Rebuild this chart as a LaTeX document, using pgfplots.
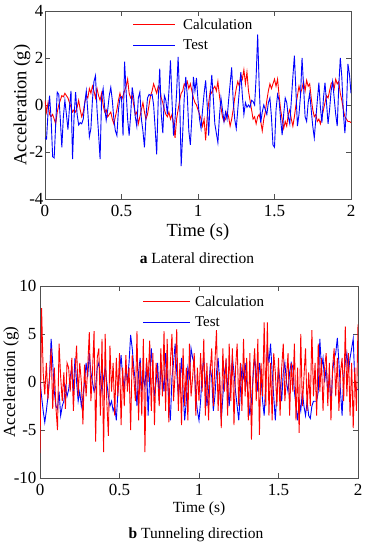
\documentclass[border=0pt]{standalone}
\usepackage{pgfplots}
\pgfplotsset{compat=1.18}
\usepackage{pgfplotstable}
\usepackage{fontspec}
\setmainfont{Liberation Serif}

\pgfplotstableread{
t calc test
0.00 0.20 -1.40
0.01 -0.30 -1.45
0.02 0.10 -0.30
0.03 -0.40 0.40
0.04 -0.50 -0.60
0.05 -0.40 -2.20
0.06 -0.60 -2.25
0.07 -0.80 -0.80
0.08 -0.30 0.55
0.09 0.00 0.45
0.10 0.20 -0.60
0.11 0.40 -1.80
0.12 0.35 -0.50
0.13 0.50 0.20
0.14 0.40 -0.40
0.15 0.30 -1.05
0.16 0.10 -0.10
0.17 -0.10 0.60
0.18 -0.30 -2.30
0.19 -0.20 -0.50
0.20 -0.30 0.55
0.21 -0.10 -0.40
0.22 0.20 -0.85
0.23 -0.20 -0.75
0.24 -0.50 -0.80
0.25 -0.30 -0.60
0.26 0.10 0.10
0.27 0.40 0.60
0.28 0.30 -0.30
0.29 0.70 -1.35
0.30 0.50 -1.00
0.31 0.80 0.20
0.32 0.60 1.00
0.33 0.30 1.25
0.34 0.70 -0.20
0.35 0.40 -1.20
0.36 0.20 -2.30
0.37 0.50 0.30
0.38 0.00 0.70
0.39 -0.30 -0.10
0.40 -0.20 -0.65
0.41 -0.50 -0.20
0.42 -0.40 0.40
0.43 -0.30 0.75
0.44 -0.60 0.20
0.45 -0.80 -0.60
0.46 -0.50 -1.10
0.47 -0.20 -1.30
0.48 0.20 -0.20
0.49 0.50 0.30
0.50 0.20 0.35
0.51 0.40 -1.30
0.52 0.60 1.85
0.53 0.80 0.60
0.54 1.10 -0.60
0.55 0.50 -1.30
0.56 0.30 -0.40
0.57 0.40 0.75
0.58 0.00 0.30
0.59 -0.40 -0.50
0.60 -0.30 -0.90
0.61 -0.80 0.30
0.62 -0.50 0.55
0.63 -0.20 -0.60
0.64 0.10 -1.10
0.65 -0.30 -1.80
0.66 -0.60 -0.50
0.67 -0.40 0.30
0.68 0.00 0.45
0.69 0.40 0.40
0.70 0.60 0.45
0.71 0.90 0.00
0.72 0.70 -1.00
0.73 0.50 -2.10
0.74 0.80 0.20
0.75 0.70 1.55
0.76 0.30 -0.40
0.77 0.10 -1.20
0.78 -0.20 0.40
0.79 -0.40 0.20
0.80 -0.50 -0.40
0.81 -0.30 0.60
0.82 -0.60 1.90
0.83 -0.40 0.20
0.84 -0.80 -1.30
0.85 -1.40 -0.60
0.86 -0.60 0.50
0.87 -0.20 2.05
0.88 0.20 0.30
0.89 0.50 -2.60
0.90 0.60 -1.20
0.91 0.90 0.30
0.92 0.80 1.20
0.93 1.00 0.40
0.94 0.70 -1.10
0.95 0.90 -1.70
0.96 0.60 -0.50
0.97 0.30 1.20
0.98 0.10 0.60
0.99 0.00 1.15
1.00 -0.20 0.20
1.01 -0.40 -0.60
1.02 -0.60 -1.00
1.03 -0.90 -0.20
1.04 -0.60 0.50
1.05 -1.50 1.05
1.06 -0.50 0.00
1.07 0.10 -1.30
1.08 0.60 0.40
1.09 0.50 1.28
1.10 0.70 0.30
1.11 0.80 -0.80
1.12 0.60 -1.20
1.13 1.00 -1.60
1.14 0.40 -0.50
1.15 -0.10 0.30
1.16 -0.50 -0.20
1.17 -0.70 -0.70
1.18 -0.60 -0.30
1.19 -0.30 -0.60
1.20 -0.50 0.20
1.21 -0.90 0.90
1.22 -0.60 1.60
1.23 -0.20 0.20
1.24 0.30 -0.60
1.25 0.70 -1.00
1.26 1.00 -0.20
1.27 0.80 0.60
1.28 1.30 1.40
1.29 1.10 0.40
1.30 1.50 -0.40
1.31 0.90 0.10
1.32 1.40 -0.10
1.33 0.60 0.00
1.34 0.20 -0.10
1.35 -0.20 0.20
1.36 -0.60 0.15
1.37 -0.50 0.00
1.38 -0.80 1.20
1.39 -0.50 3.00
1.40 -0.40 0.80
1.41 -0.70 -0.75
1.42 -1.10 -0.30
1.43 -0.60 0.00
1.44 -0.30 -0.20
1.45 0.20 -0.40
1.46 0.60 0.10
1.47 0.90 0.30
1.48 0.70 -0.50
1.49 0.90 -1.70
1.50 1.10 -1.80
1.51 0.80 -0.20
1.52 1.10 0.45
1.53 0.40 0.20
1.54 -0.20 -0.60
1.55 -0.60 -1.28
1.56 -1.00 -0.40
1.57 -0.70 0.30
1.58 -0.90 0.10
1.59 -0.40 -0.50
1.60 -0.20 -0.80
1.61 -0.60 0.20
1.62 -0.90 1.20
1.63 -0.50 2.10
1.64 0.00 0.60
1.65 0.40 -0.90
1.66 0.80 -0.40
1.67 0.50 0.40
1.68 0.70 2.00
1.69 1.00 0.80
1.70 0.60 -0.50
1.71 1.05 -0.70
1.72 0.80 0.10
1.73 0.90 0.50
1.74 0.30 -0.20
1.75 -0.20 -0.90
1.76 -0.50 -1.40
1.77 -0.40 -0.60
1.78 -0.70 0.20
1.79 -0.60 0.95
1.80 -0.80 -0.10
1.81 -0.50 -0.75
1.82 -0.20 0.30
1.83 0.10 0.95
1.84 0.40 0.10
1.85 0.30 -0.80
1.86 0.60 -0.20
1.87 0.90 0.60
1.88 1.00 1.00
1.89 0.70 0.30
1.90 1.10 -0.40
1.91 0.90 -0.90
1.92 1.00 0.80
1.93 0.50 2.00
1.94 0.20 1.20
1.95 -0.20 -0.30
1.96 -0.50 -1.20
1.97 -0.60 -0.20
1.98 -0.70 1.75
1.99 -0.70 1.30
2.00 -0.75 0.50
}\topdata

\pgfplotstableread{
t calc test
0.00 -7.4 0.0
0.01 7.7 -1.5
0.02 1.0 -3.0
0.03 -1.3 -4.2
0.04 2.0 -3.0
0.05 -1.8 -1.5
0.06 0.5 0.5
0.07 3.5 4.5
0.08 -2.8 2.0
0.09 1.5 -1.0
0.10 -2.6 -2.5
0.11 -5.0 -2.8
0.12 4.0 -1.0
0.13 0.5 -3.5
0.14 -2.0 -2.5
0.15 1.0 -2.0
0.16 -2.8 -0.5
0.17 2.0 -1.5
0.18 1.5 -0.8
0.19 -1.0 0.5
0.20 2.5 1.5
0.21 -3.0 -1.0
0.22 1.0 2.5
0.23 3.8 0.0
0.24 -1.5 -2.0
0.25 2.0 -1.0
0.26 0.0 -2.5
0.27 -4.4 -1.5
0.28 1.8 0.0
0.29 -1.5 2.0
0.30 1.5 0.5
0.31 5.2 3.0
0.32 -2.0 1.0
0.33 1.0 0.0
0.34 5.3 -1.0
0.35 -6.2 -0.5
0.36 2.5 1.5
0.37 3.5 2.0
0.38 -3.5 0.5
0.39 4.5 -1.0
0.40 -7.3 0.5
0.41 5.0 1.5
0.42 -2.0 0.0
0.43 -5.6 -1.5
0.44 3.8 -2.5
0.45 -1.0 -2.0
0.46 2.0 -3.0
0.47 -3.5 -2.5
0.48 2.5 -4.0
0.49 -1.5 -1.0
0.50 3.0 1.0
0.51 -4.5 2.8
0.52 1.5 0.5
0.53 -2.5 -0.5
0.54 2.8 1.5
0.55 -1.0 0.0
0.56 1.5 2.0
0.57 -5.0 4.9
0.58 2.8 3.5
0.59 0.5 1.5
0.60 -2.0 0.0
0.61 5.3 -2.5
0.62 -4.0 1.0
0.63 2.0 2.5
0.64 -3.5 -1.0
0.65 4.5 0.5
0.66 -7.3 -0.5
0.67 2.5 2.0
0.68 0.0 -3.5
0.69 4.3 0.5
0.70 -3.0 3.5
0.71 3.0 1.0
0.72 -4.5 -1.5
0.73 2.0 0.0
0.74 0.5 2.0
0.75 -2.5 -2.0
0.76 3.5 1.5
0.77 -1.5 0.5
0.78 5.3 -1.0
0.79 -3.0 3.0
0.80 4.5 1.0
0.81 -4.2 -2.0
0.82 2.0 -4.0
0.83 5.0 0.5
0.84 -2.0 2.0
0.85 1.0 4.0
0.86 5.5 1.0
0.87 -3.0 -1.5
0.88 2.0 0.0
0.89 -4.5 2.5
0.90 3.5 -1.0
0.91 -2.5 -4.0
0.92 1.5 -2.0
0.93 -4.0 1.5
0.94 4.0 0.5
0.95 -1.5 3.5
0.96 0.5 2.5
0.97 3.0 2.0
0.98 -3.5 -1.5
0.99 1.5 -3.0
1.00 -2.0 -4.0
1.01 3.0 -2.0
1.02 -1.0 1.0
1.03 4.5 2.5
1.04 -3.5 0.0
1.05 2.0 -2.5
1.06 -4.0 -1.0
1.07 1.0 1.5
1.08 3.5 0.5
1.09 -2.5 -3.0
1.10 2.0 -1.5
1.11 5.4 1.0
1.12 -3.0 2.5
1.13 1.0 0.0
1.14 -4.8 -4.0
1.15 3.5 -1.5
1.16 -1.0 1.0
1.17 2.5 2.0
1.18 -3.5 -0.5
1.19 4.0 -2.5
1.20 -2.0 0.5
1.21 3.5 2.5
1.22 -4.5 1.0
1.23 1.5 -1.0
1.24 4.0 -2.5
1.25 -2.5 -4.0
1.26 2.0 -1.0
1.27 -3.0 1.5
1.28 4.5 0.5
1.29 -1.5 2.0
1.30 2.5 0.0
1.31 -4.0 -1.5
1.32 3.0 -3.5
1.33 -6.0 -2.0
1.34 1.0 0.5
1.35 3.5 2.5
1.36 -2.0 1.0
1.37 4.5 -1.0
1.38 -5.5 2.0
1.39 2.0 0.5
1.40 -1.5 -2.0
1.41 6.2 -3.5
1.42 -2.5 0.0
1.43 6.2 3.5
1.44 -3.5 2.0
1.45 2.0 4.0
1.46 -4.0 1.0
1.47 3.0 -1.5
1.48 1.0 -4.0
1.49 -2.5 -1.0
1.50 2.5 1.5
1.51 -3.5 0.0
1.52 1.5 -2.0
1.53 4.0 1.0
1.54 -2.0 2.0
1.55 0.5 0.0
1.56 3.0 -1.0
1.57 -3.5 1.0
1.58 2.0 2.0
1.59 -1.0 1.5
1.60 4.0 -1.0
1.61 -4.0 -2.5
1.62 1.5 -4.0
1.63 -5.3 -2.0
1.64 5.0 -3.0
1.65 -2.5 -1.0
1.66 0.5 -2.5
1.67 3.5 -3.5
1.68 -3.0 -2.0
1.69 1.0 -3.5
1.70 -2.5 -3.8
1.71 5.4 -2.5
1.72 -1.5 -2.0
1.73 2.0 -2.0
1.74 -3.5 -2.0
1.75 4.0 -1.0
1.76 -1.0 4.5
1.77 2.5 1.5
1.78 -3.0 2.5
1.79 1.5 0.0
1.80 3.0 1.5
1.81 -2.5 -1.0
1.82 2.0 0.5
1.83 -4.0 -2.5
1.84 1.5 1.0
1.85 3.5 2.5
1.86 -1.5 3.0
1.87 2.5 4.6
1.88 -3.0 2.0
1.89 1.0 -1.0
1.90 2.5 -3.5
1.91 -2.0 0.5
1.92 5.8 2.0
1.93 -1.5 3.0
1.94 3.0 1.0
1.95 -3.5 2.5
1.96 2.0 3.5
1.97 -4.8 4.5
1.98 1.5 0.0
1.99 -3.0 -0.8
2.00 6.0 -0.8
}\botdata

\definecolor{axgray}{RGB}{80,80,80}

\pgfplotsset{
  mystyle/.style={
    scale only axis,
    xmin=0, xmax=2,
    xtick={0,0.5,1,1.5,2},
    xticklabels={0,0.5,1,1.5,2},
    tick align=inside,
    major tick length=5pt,
    axis line style={axgray, line width=0.6pt},
    tick style={axgray, line width=0.6pt},
    ticklabel style={font=\fontsize{17}{17}\selectfont},
  }
}

\begin{document}
\begin{tikzpicture}[x=1pt,y=1pt]
\useasboundingbox (0,0) rectangle (369,-547);
\begin{axis}[mystyle,
  at={(45pt,-199pt)}, anchor=south west,
  width=306pt, height=188pt,
  ymin=-4, ymax=4,
  ytick={-4,-2,0,2,4},
  yticklabels={-4,-2,0,2,4},
  xticklabel style={yshift=-3pt},
  yticklabel style={xshift=2pt},
  xlabel={Time (s)},
  ylabel={Acceleration (g)},
  xlabel style={at={(axis description cs:0.5,0)}, anchor=center, yshift=-33pt, font=\fontsize{18.5}{18.5}\selectfont},
  ylabel style={at={(axis description cs:-0.075,0.5)}, anchor=center, font=\fontsize{18.5}{18.5}\selectfont},
]
\addplot[red, line width=0.9pt] table[x=t, y=calc] {\topdata};
\addplot[blue, line width=0.9pt] table[x=t, y=test] {\topdata};
% legend
\draw[red, line width=0.9pt] (axis description cs:0.288,0.931) -- (axis description cs:0.425,0.931);
\draw[blue, line width=0.9pt] (axis description cs:0.288,0.819) -- (axis description cs:0.425,0.819);
\node[anchor=west, inner sep=0pt, font=\fontsize{15}{15}\selectfont] at (axis description cs:0.451,0.931) {Calculation};
\node[anchor=west, inner sep=0pt, font=\fontsize{15}{15}\selectfont] at (axis description cs:0.451,0.819) {Test};
\end{axis}
\node[font=\fontsize{15.5}{15.5}\selectfont] at (197,-258) {\textbf{a} Lateral direction};

\begin{axis}[mystyle,
  at={(40pt,-478pt)}, anchor=south west,
  width=318pt, height=192pt,
  ymin=-10, ymax=10,
  ytick={-10,-5,0,5,10},
  yticklabels={-10,-5,0,5,10},
  xticklabel style={yshift=-3pt},
  xlabel={Time (s)},
  ylabel={Acceleration (g)},
  xlabel style={at={(axis description cs:0.5,0)}, anchor=center, yshift=-31pt, font=\fontsize{15.5}{15.5}\selectfont},
  ylabel style={at={(axis description cs:-0.091,0.5)}, anchor=center, font=\fontsize{17}{17}\selectfont},
]
\addplot[blue, line width=0.9pt] table[x=t, y=test] {\botdata};
\addplot[red, line width=0.9pt] table[x=t, y=calc] {\botdata};
% legend
\draw[red, line width=0.9pt] (axis description cs:0.324,0.922) -- (axis description cs:0.472,0.922);
\draw[blue, line width=0.9pt] (axis description cs:0.324,0.8125) -- (axis description cs:0.472,0.8125);
\node[anchor=west, inner sep=0pt, font=\fontsize{15}{15}\selectfont] at (axis description cs:0.487,0.922) {Calculation};
\node[anchor=west, inner sep=0pt, font=\fontsize{15}{15}\selectfont] at (axis description cs:0.487,0.8125) {Test};
\end{axis}
\node[font=\fontsize{15.5}{15.5}\selectfont] at (196,-535) {\textbf{b} Tunneling direction};
\end{tikzpicture}
\end{document}
